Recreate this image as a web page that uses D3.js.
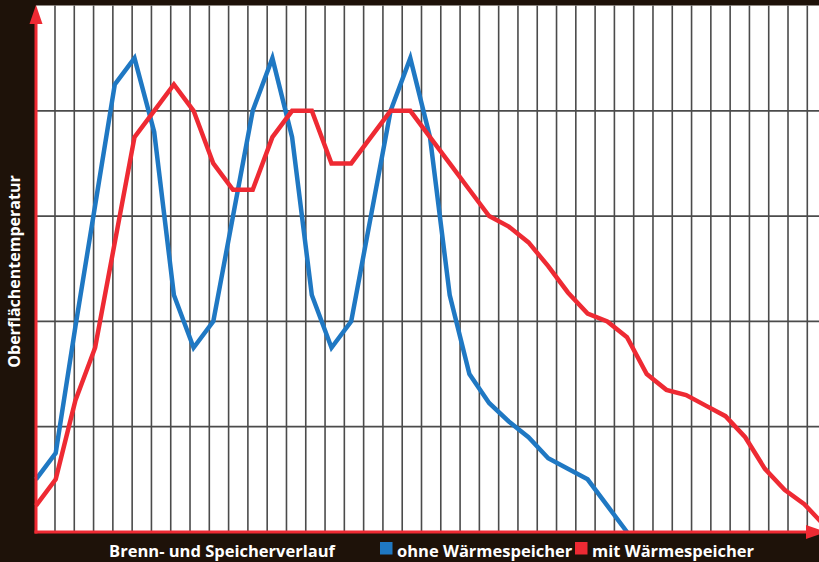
<!DOCTYPE html>
<html>
<head>
<meta charset="utf-8">
<script src="https://cdn.jsdelivr.net/npm/d3@7/dist/d3.min.js"></script>
<style>
  html, body { margin: 0; padding: 0; background: #1e1209; }
  svg { display: block; }
  text { font-family: "Open Sans", "Noto Sans", sans-serif; font-weight: 700; fill: #ffffff; }
</style>
</head>
<body>
<svg id="chart" width="819" height="562"></svg>
<script>
// Burn and storage curve: surface temperature over time (relative units 0–100)
const steps = d3.range(0, 41);
const withoutStorage = [10, 15, 39, 62, 85, 90, 76, 45, 35, 40, 60, 80, 90, 75, 45, 35, 40, 60, 80, 90,
                        75, 45, 30, 24.5, 21, 18, 14, 12, 10, 5, 0];
const withStorage = [5, 10, 25, 35, 55, 75, 80, 85, 80, 70, 65, 65, 75, 80, 80, 70, 70, 75, 80, 80,
                     75, 70, 65, 60, 58, 55, 50.5, 45.5, 41.5, 40, 37, 30, 27, 26, 24, 22, 18, 12, 8, 5.3, 1.3];
const horizontalGrid = [20, 40, 60, 80];
const verticalGrid = d3.range(1, 41);
const seriesNames = ["ohne Wärmespeicher", "mit Wärmespeicher"];
const xTitle = "Brenn- und Speicherverlauf";
const yTitle = "Oberflächentemperatur";

const W = 819, H = 562;
const plotLeft = 36, plotTop = 5.5, plotBottom = 532;
const blue = "#1f78c3", red = "#ee2a33", gridColor = "#4b4b4b";

const svg = d3.select("#chart");

const x = d3.scaleLinear().domain([0, 40]).range([plotLeft, 824]);
const xGrid = d3.scaleLinear().domain([0, 40]).range([35.7, 807.3]);
const y = d3.scaleLinear().domain([0, 100]).range([plotBottom, plotTop]);

// plot background
svg.append("rect").attr("width", W).attr("height", H).attr("fill", "#1e1209");
svg.append("rect").attr("x", plotLeft).attr("y", plotTop).attr("width", W - plotLeft).attr("height", plotBottom - plotTop)
  .attr("fill", "#ffffff");

// grid
svg.append("g").selectAll("line").data(verticalGrid).join("line")
  .attr("x1", d => xGrid(d)).attr("x2", d => xGrid(d))
  .attr("y1", plotTop).attr("y2", plotBottom)
  .attr("stroke", gridColor).attr("stroke-width", 1.6);
svg.append("g").selectAll("line").data(horizontalGrid).join("line")
  .attr("x1", plotLeft).attr("x2", W)
  .attr("y1", d => y(d)).attr("y2", d => y(d))
  .attr("stroke", gridColor).attr("stroke-width", 1.7);

// series
const line = d3.line().x((d, i) => x(steps[i])).y(d => y(d));
svg.append("path").datum(withoutStorage).attr("d", line)
  .attr("fill", "none").attr("stroke", blue).attr("stroke-width", 4.5)
  .attr("stroke-linejoin", "miter").attr("stroke-miterlimit", 10);
svg.append("path").datum(withStorage).attr("d", line)
  .attr("fill", "none").attr("stroke", red).attr("stroke-width", 4.5)
  .attr("stroke-linejoin", "miter").attr("stroke-miterlimit", 10);

// axes with arrow heads
svg.append("line").attr("x1", plotLeft).attr("x2", plotLeft).attr("y1", plotBottom + 1.5).attr("y2", 20)
  .attr("stroke", red).attr("stroke-width", 3);
svg.append("path").attr("d", `M${plotLeft},5 L${plotLeft - 6.5},24 L${plotLeft + 6.5},24 Z`).attr("fill", red);
svg.append("line").attr("x1", plotLeft - 1.5).attr("x2", 810).attr("y1", plotBottom).attr("y2", plotBottom)
  .attr("stroke", red).attr("stroke-width", 3);
svg.append("path").attr("d", `M826,${plotBottom} L806,${plotBottom - 7} L806,${plotBottom + 7} Z`).attr("fill", red);

// titles and legend
svg.append("text").attr("x", 222).attr("y", 557).attr("text-anchor", "middle")
  .attr("font-size", 16.5).text(xTitle);
svg.append("text").attr("transform", "translate(20,271.5) rotate(-90)").attr("text-anchor", "middle")
  .attr("font-size", 16).text(yTitle);

const legend = svg.append("g");
const legendItems = [
  { name: seriesNames[0], color: blue, x: 380 },
  { name: seriesNames[1], color: red, x: 575 }
];
legend.selectAll("rect").data(legendItems).join("rect")
  .attr("x", d => d.x).attr("y", 542).attr("width", 12.5).attr("height", 12.5).attr("fill", d => d.color);
legend.selectAll("text").data(legendItems).join("text")
  .attr("x", d => d.x + 17).attr("y", 557).attr("font-size", 16.5).text(d => d.name);
</script>
</body>
</html>
